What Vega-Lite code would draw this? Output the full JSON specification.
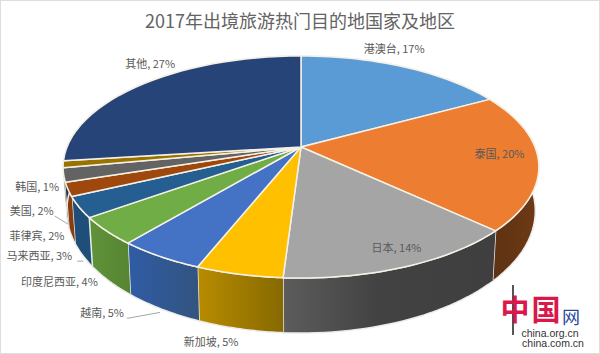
{
"$schema":"https://vega.github.io/schema/vega-lite/v6.json",
"width":600,"height":354,"padding":0,"autosize":{"type":"none"},
"background":"white",
"config":{"view":{"stroke":"#dedede","strokeWidth":2},"text":{"font":"Noto Sans CJK SC"}},
"title":{"text":"2017年出境旅游热门目的地国家及地区","frame":"group","anchor":"middle","offset":-32,"font":"Noto Sans CJK SC","fontSize":18,"fontWeight":"normal","color":"#636363"},
"data":{"values":[
{"name":"港澳台","value":17},{"name":"泰国","value":20},{"name":"日本","value":14},{"name":"新加坡","value":5},{"name":"越南","value":5},{"name":"印度尼西亚","value":4},{"name":"马来西亚","value":3},{"name":"菲律宾","value":2},{"name":"美国","value":2},{"name":"韩国","value":1},{"name":"其他","value":27}
]},
"transform":[
{"window":[{"op":"sum","field":"value","as":"s1"}]},
{"calculate":"datum.s1-datum.value","as":"s0"}
],
"encoding":{
"x":{"field":"px","type":"quantitative","scale":{"domain":[0,600],"nice":false,"zero":false},"axis":null},
"y":{"field":"py","type":"quantitative","scale":{"domain":[0,354],"reverse":true,"nice":false,"zero":false},"axis":null}
},
"layer":[
{"transform":[
{"calculate":"sequence(0,62)","as":"idx"},{"flatten":["idx"]},
{"calculate":"datum.idx<=30?datum.idx/30:(61-datum.idx)/30","as":"t"},
{"calculate":"2*PI*(datum.s0+datum.value*datum.t)/100","as":"phi"},
{"calculate":"sin(datum.phi)","as":"X"},{"calculate":"-cos(datum.phi)","as":"Y"},{"calculate":"1-0.18*datum.Y","as":"d"},
{"calculate":"301+234*datum.X/datum.d*(datum.idx>30?0.985:1)","as":"px"},
{"calculate":"147+107.4*datum.Y/datum.d*(datum.idx>30?1.1:1)+(datum.idx>30?42:0)","as":"py"}
],
"encoding":{"order":{"field":"idx","type":"quantitative"}},
"layer":[
{"transform":[{"filter":"indexof(['马来西亚','菲律宾','美国','韩国','其他','港澳台'],datum.name)>=0"}],
"mark":{"type":"line","stroke":"#ececec","strokeWidth":1.5,"strokeJoin":"round"},
"encoding":{"fill":{"field":"name","type":"nominal","legend":null,"scale":{"domain":["港澳台","马来西亚","菲律宾","美国","韩国","其他"],"range":["#3a6a96","#1f4e79","#8a3c0a","#555555","#7a5c00","#1f3864"]}}}},
{"transform":[{"filter":"datum.name=='泰国'"}],
"mark":{"type":"line","stroke":"#ececec","strokeWidth":1.5,"strokeJoin":"round","fill":{"gradient":"linear","x1":0,"y1":0,"x2":1,"y2":0,"stops":[{"offset":0,"color":"#5c3112"},{"offset":1,"color":"#6e3a14"}]}}},
{"transform":[{"filter":"datum.name=='日本'"}],
"mark":{"type":"line","stroke":"#ececec","strokeWidth":1.5,"strokeJoin":"round","fill":{"gradient":"linear","x1":0,"y1":0,"x2":1,"y2":0,"stops":[{"offset":0,"color":"#5c5c5c"},{"offset":0.45,"color":"#424242"},{"offset":1,"color":"#3f3f3f"}]}}},
{"transform":[{"filter":"datum.name=='新加坡'"}],
"mark":{"type":"line","stroke":"#ececec","strokeWidth":1.5,"strokeJoin":"round","fill":{"gradient":"linear","x1":0,"y1":0,"x2":1,"y2":0,"stops":[{"offset":0,"color":"#b88c00"},{"offset":1,"color":"#866900"}]}}},
{"transform":[{"filter":"datum.name=='越南'"}],
"mark":{"type":"line","stroke":"#ececec","strokeWidth":1.5,"strokeJoin":"round","fill":{"gradient":"linear","x1":0,"y1":0,"x2":1,"y2":0,"stops":[{"offset":0,"color":"#2f5ca6"},{"offset":1,"color":"#33547f"}]}}},
{"transform":[{"filter":"datum.name=='印度尼西亚'"}],
"mark":{"type":"line","stroke":"#ececec","strokeWidth":1.5,"strokeJoin":"round","fill":{"gradient":"linear","x1":0,"y1":0,"x2":1,"y2":0,"stops":[{"offset":0,"color":"#5f9339"},{"offset":1,"color":"#578432"}]}}}
]},
{"transform":[
{"calculate":"sequence(0,33)","as":"idx"},{"flatten":["idx"]},
{"calculate":"(datum.idx==0||datum.idx==32)?0:1","as":"r"},
{"calculate":"max(0,min(1,(datum.idx-1)/30))","as":"t"},
{"calculate":"2*PI*(datum.s0+datum.value*datum.t)/100","as":"phi"},
{"calculate":"sin(datum.phi)","as":"X"},{"calculate":"-cos(datum.phi)","as":"Y"},{"calculate":"1-0.18*datum.Y","as":"d"},
{"calculate":"301+234*datum.X/datum.d*datum.r","as":"px"},
{"calculate":"147+107.4*datum.Y/datum.d*datum.r","as":"py"}
],
"mark":{"type":"line","stroke":"#f6f1e6","strokeWidth":1.5,"strokeJoin":"round"},
"encoding":{
"order":{"field":"idx","type":"quantitative"},
"fill":{"field":"name","type":"nominal","legend":null,"scale":{"domain":["港澳台","泰国","日本","新加坡","越南","印度尼西亚","马来西亚","菲律宾","美国","韩国","其他"],"range":["#5B9BD5","#ED7D31","#A5A5A5","#FFC000","#4472C4","#70AD47","#255E91","#9E480E","#636363","#997300","#264478"]}}
}},
{"transform":[
{"filter":"indexof(['越南','美国','马来西亚'],datum.name)>=0"},
{"calculate":"2*PI*(datum.s0+datum.value/2)/100","as":"phi"},
{"calculate":"sin(datum.phi)","as":"X"},{"calculate":"-cos(datum.phi)","as":"Y"},{"calculate":"1-0.18*datum.Y","as":"d"},
{"calculate":"{'越南':[-33,62,0,56],'美国':[-9,41,4,49],'马来西亚':[-2,54,4,54]}[datum.name]","as":"lead"},
{"calculate":"301+234*datum.X/datum.d+datum.lead[0]","as":"px"},
{"calculate":"147+107.4*datum.Y/datum.d+datum.lead[1]","as":"py"},
{"calculate":"301+234*datum.X/datum.d+datum.lead[2]","as":"bx"},
{"calculate":"147+107.4*datum.Y/datum.d+datum.lead[3]","as":"by"}
],
"mark":{"type":"rule","color":"#a6a6a6","strokeWidth":1},
"encoding":{"x2":{"field":"bx"},"y2":{"field":"by"}}},
{"transform":[
{"calculate":"2*PI*(datum.s0+datum.value/2)/100","as":"phi"},
{"calculate":"sin(datum.phi)","as":"X"},{"calculate":"-cos(datum.phi)","as":"Y"},{"calculate":"1-0.18*datum.Y","as":"d"},
{"calculate":"{'港澳台':[-10,-17],'泰国':[-39,-6],'日本':[-8,-18],'新加坡':[-28,69],'越南':[-58,58],'印度尼西亚':[-47,52],'马来西亚':[-40,50],'菲律宾':[-31,48],'美国':[-32,37],'韩国':[-26,24],'其他':[6,-19]}[datum.name]","as":"off"},
{"calculate":"301+234*datum.X/datum.d+datum.off[0]","as":"px"},
{"calculate":"147+107.4*datum.Y/datum.d+datum.off[1]","as":"py"},
{"calculate":"datum.name+', '+datum.value+'%'","as":"label"}
],
"mark":{"type":"text","font":"Noto Sans CJK SC","fontSize":11,"color":"#595959","align":"center","baseline":"middle"},
"encoding":{"text":{"field":"label","type":"nominal"}}},
{"data":{"values":[{"p":"logo"}]},
"transform":[{"calculate":"513","as":"px"},{"calculate":"285","as":"py"},{"calculate":"335","as":"py2"}],
"mark":{"type":"rule","color":"#555555","strokeWidth":2},
"encoding":{"y2":{"field":"py2"}}},
{"data":{"values":[{"t":"中"},{"t":"国"}]},
"transform":[{"calculate":"datum.t=='中'?515:546","as":"px"},{"calculate":"312","as":"py"}],
"mark":{"type":"text","font":"Noto Sans CJK SC","fontSize":29,"fontWeight":"bold","color":"#d8194a","align":"center","baseline":"middle"},
"encoding":{"text":{"field":"t","type":"nominal"}}},
{"data":{"values":[{"t":"网"}]},
"transform":[{"calculate":"571","as":"px"},{"calculate":"319","as":"py"}],
"mark":{"type":"text","font":"Noto Sans CJK SC","fontSize":18,"color":"#2b4a9b","align":"center","baseline":"middle"},
"encoding":{"text":{"field":"t","type":"nominal"}}},
{"data":{"values":[{"t":"china.org.cn"},{"t":"china.com.cn"}]},
"transform":[{"calculate":"datum.t=='china.org.cn'?550:553","as":"px"},{"calculate":"datum.t=='china.org.cn'?334:344","as":"py"}],
"mark":{"type":"text","font":"Liberation Sans","fontSize":10.5,"color":"#333333","align":"center","baseline":"middle"},
"encoding":{"text":{"field":"t","type":"nominal"}}}
],
"resolve":{"scale":{"fill":"independent"}}
}
